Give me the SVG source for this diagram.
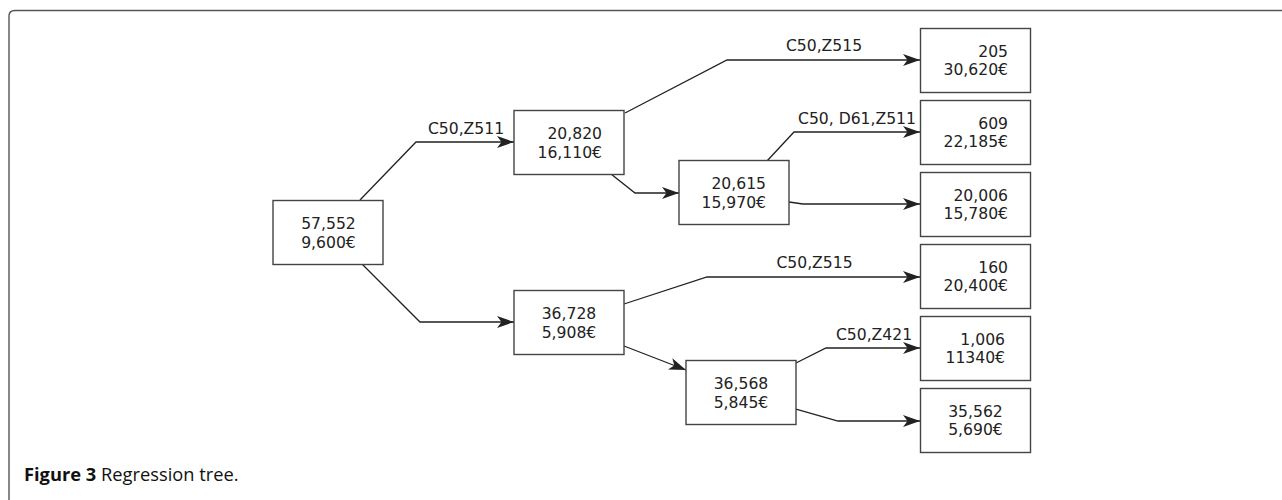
<svg xmlns="http://www.w3.org/2000/svg" width="1282" height="500" viewBox="0 0 1282 500">
<defs>
<marker id="arr" viewBox="0 0 18 14" refX="17" refY="7" markerWidth="18" markerHeight="14" markerUnits="userSpaceOnUse" orient="auto">
<path d="M0,1 L17,7 L0,13 L4.5,7 Z" fill="#222"/>
</marker>
<style>
.box{fill:#fff;stroke:#444;stroke-width:1.4}
.t{font-family:"DejaVu Sans","Open Sans",sans-serif;font-size:15.6px;fill:#222}
.e{text-anchor:end}
.m{text-anchor:middle}
.c{fill:none;stroke:#222;stroke-width:1.3;marker-end:url(#arr)}
.cap{font-family:"Open Sans","Noto Sans",sans-serif;font-size:18.3px;fill:#111}
</style>
</defs>
<rect width="1282" height="500" fill="#fff"/>
<path d="M9,500 L9,16 Q9,10.5 15,10.5 L1282,10.5" fill="none" stroke="#555" stroke-width="1.4"/>
<g id="connectors">
<polyline class="c" points="360,200 416,142 514,142"/>
<polyline class="c" points="362,264 420,322 514,322"/>
<polyline class="c" points="625,113 727,60 920,60"/>
<polyline class="c" points="611,174 635,193 679,193"/>
<polyline class="c" points="767,161 794,132 920,132"/>
<polyline class="c" points="789,202 803,204 920,204"/>
<polyline class="c" points="624,304 707,277 920,277"/>
<polyline class="c" points="624,346 686,370"/>
<polyline class="c" points="796,363 826,348 920,348"/>
<polyline class="c" points="796,409 838,421 920,421"/>
<text class="t m" x="466" y="133.5">C50,Z511</text>
<text class="t m" x="824" y="51">C50,Z515</text>
<text class="t m" x="857" y="123.5">C50, D61,Z511</text>
<text class="t m" x="814.5" y="267.5">C50,Z515</text>
<text class="t m" x="874" y="340">C50,Z421</text>
</g>
<g id="root"><rect class="box" x="273" y="200.5" width="110" height="64"/><text class="t m" x="328.5" y="229">57,552</text><text class="t m" x="328.5" y="247.5">9,600€</text></g>
<g id="n1"><rect class="box" x="514" y="110.5" width="110" height="64"/><text class="t e" x="602" y="139">20,820</text><text class="t e" x="602" y="157.5">16,110€</text></g>
<g id="n1a"><rect class="box" x="679" y="160.5" width="110" height="64"/><text class="t e" x="766" y="189">20,615</text><text class="t e" x="766" y="207.5">15,970€</text></g>
<g id="n2"><rect class="box" x="514" y="290.5" width="110" height="64"/><text class="t m" x="569" y="319">36,728</text><text class="t m" x="569" y="337.5">5,908€</text></g>
<g id="n2a"><rect class="box" x="686" y="360.5" width="110" height="64"/><text class="t m" x="741" y="389">36,568</text><text class="t m" x="741" y="407.5">5,845€</text></g>
<g id="leaf205"><rect class="box" x="920.5" y="28.5" width="110" height="64"/><text class="t e" x="1008" y="56.5">205</text><text class="t e" x="1008" y="75">30,620€</text></g>
<g id="leaf609"><rect class="box" x="920.5" y="100.5" width="110" height="64"/><text class="t e" x="1008" y="128.5">609</text><text class="t e" x="1008" y="147">22,185€</text></g>
<g id="leaf20006"><rect class="box" x="920.5" y="172.5" width="110" height="64"/><text class="t e" x="1008" y="200.5">20,006</text><text class="t e" x="1008" y="219">15,780€</text></g>
<g id="leaf160"><rect class="box" x="920.5" y="244.5" width="110" height="64"/><text class="t e" x="1008" y="272.5">160</text><text class="t e" x="1008" y="291">20,400€</text></g>
<g id="leaf1006"><rect class="box" x="920.5" y="316.5" width="110" height="64"/><text class="t e" x="1005" y="344.5">1,006</text><text class="t e" x="1005" y="363">11340€</text></g>
<g id="leaf35562"><rect class="box" x="920.5" y="388.5" width="110" height="64"/><text class="t m" x="975.5" y="416.5">35,562</text><text class="t m" x="975.5" y="435">5,690€</text></g>
<text class="cap" x="24" y="481"><tspan font-weight="bold">Figure 3</tspan> Regression tree.</text>
</svg>
